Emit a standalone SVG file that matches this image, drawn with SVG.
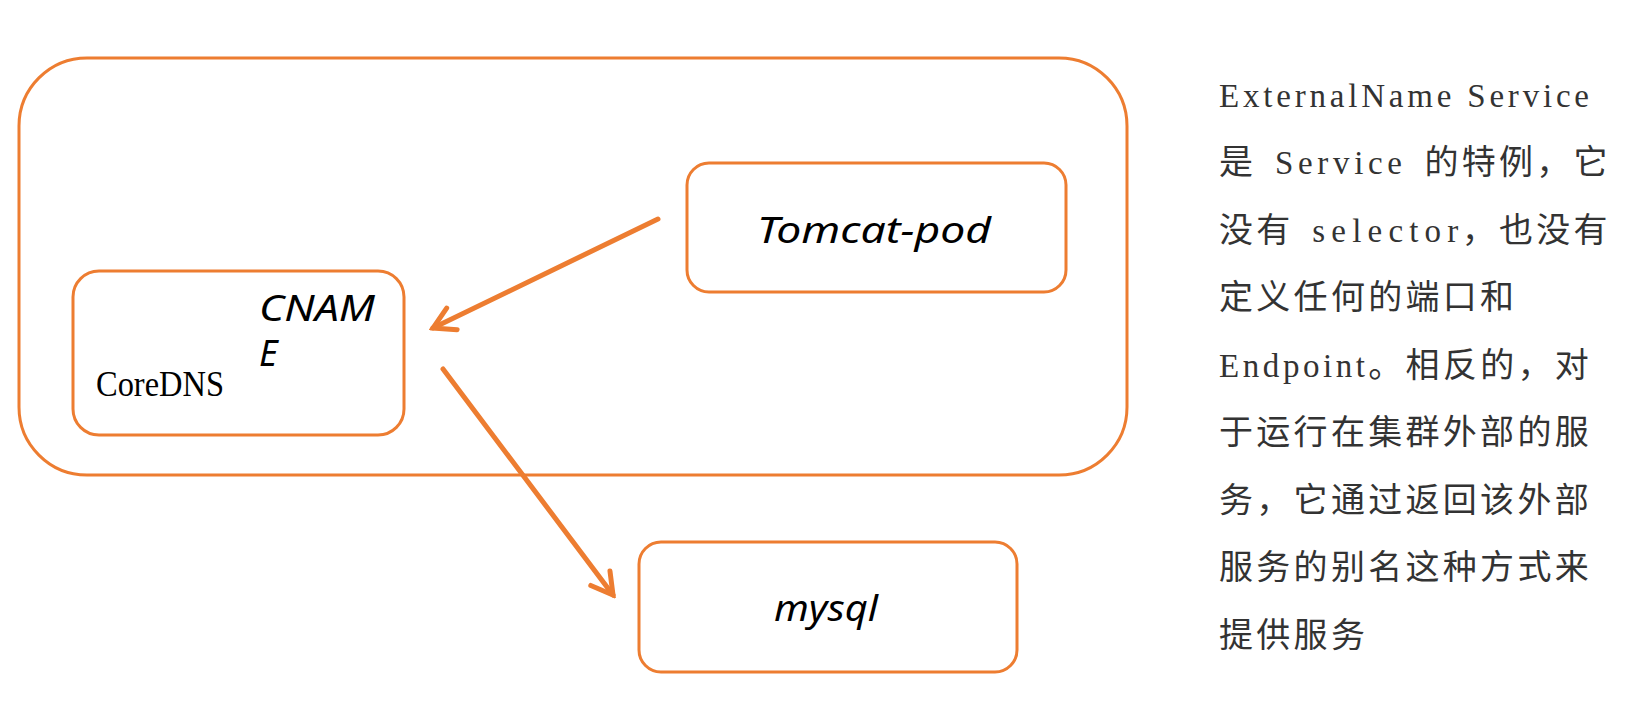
<svg xmlns="http://www.w3.org/2000/svg" width="1643" height="712" viewBox="0 0 1643 712">
<style>
.box{fill:#fff;stroke:#ED7D31;stroke-width:3}
.outer{fill:none;stroke:#ED7D31;stroke-width:3}
.conn{fill:none;stroke:#ED7D31;stroke-width:5;stroke-linecap:round}
.hand{font-family:"Noto Sans","Open Sans",sans-serif;font-style:italic;fill:#000}
.lat{font-family:"Liberation Serif","Noto Sans CJK SC",serif;font-size:33px}
.cjk{font-family:"Noto Sans CJK SC",sans-serif;font-size:34px;letter-spacing:3.3px}
.desc{fill:#333}
</style>
<defs>
<marker id="arr" markerUnits="userSpaceOnUse" viewBox="-26 -16 30 32" markerWidth="30" markerHeight="32" refX="0" refY="0" orient="auto">
<path d="M-21,-12 L0,0 L-21,12" fill="none" stroke="#ED7D31" stroke-width="5" stroke-linecap="round" stroke-linejoin="miter"/>
</marker>
</defs>
<rect width="1643" height="712" fill="#fff"/>
<g id="cluster">
<rect class="outer" x="19" y="58" width="1108" height="417" rx="68" ry="68"/>
</g>
<g id="tomcat">
<rect class="box" x="687" y="163" width="379" height="129" rx="22" ry="22"/>
<text class="hand" x="757" y="243" font-size="36" textLength="234" lengthAdjust="spacingAndGlyphs">Tomcat-pod</text>
</g>
<g id="coredns">
<rect class="box" x="73" y="271" width="331" height="164" rx="26" ry="26"/>
<text x="96" y="396" font-family="Liberation Serif, serif" font-size="36" fill="#000" textLength="128" lengthAdjust="spacingAndGlyphs">CoreDNS</text>
<text class="hand" x="259" y="321" font-size="36" textLength="116" lengthAdjust="spacingAndGlyphs">CNAM</text>
<text class="hand" x="259" y="366" font-size="36">E</text>
</g>
<g id="mysql">
<rect class="box" x="639" y="542" width="378" height="130" rx="22" ry="22"/>
<text class="hand" x="774" y="621" font-size="36" textLength="104" lengthAdjust="spacingAndGlyphs">mysql</text>
</g>
<g id="connectors">
<line class="conn" x1="658" y1="219" x2="433" y2="328" marker-end="url(#arr)"/>
<line class="conn" x1="443" y1="369" x2="613" y2="595" marker-end="url(#arr)"/>
</g>
<g id="description" class="desc">
<text class="lat" x="1219" y="106.5" textLength="370" lengthAdjust="spacing">ExternalName Service</text>
<text y="174"><tspan class="cjk" x="1219">是</tspan></text>
<text class="lat" x="1275" y="174" textLength="127" lengthAdjust="spacing">Service</text>
<text y="174"><tspan class="cjk" x="1424.4">的特例，它</tspan></text>
<text y="241.5"><tspan class="cjk" x="1219">没有</tspan><tspan class="cjk" x="1461.7">，也没有</tspan></text>
<text class="lat" x="1312.3" y="241.5" textLength="146" lengthAdjust="spacing">selector</text>
<text y="309"><tspan class="cjk" x="1219">定义任何的端口和</tspan></text>
<text class="lat" x="1219" y="376.5" textLength="146" lengthAdjust="spacing">Endpoint</text>
<text y="376.5"><tspan class="cjk" x="1368.3">。相反的，对</tspan></text>
<text y="444"><tspan class="cjk" x="1219">于运行在集群外部的服</tspan></text>
<text y="511.5"><tspan class="cjk" x="1219">务，它通过返回该外部</tspan></text>
<text y="579"><tspan class="cjk" x="1219">服务的别名这种方式来</tspan></text>
<text y="646.5"><tspan class="cjk" x="1219">提供服务</tspan></text>
</g>
</svg>
